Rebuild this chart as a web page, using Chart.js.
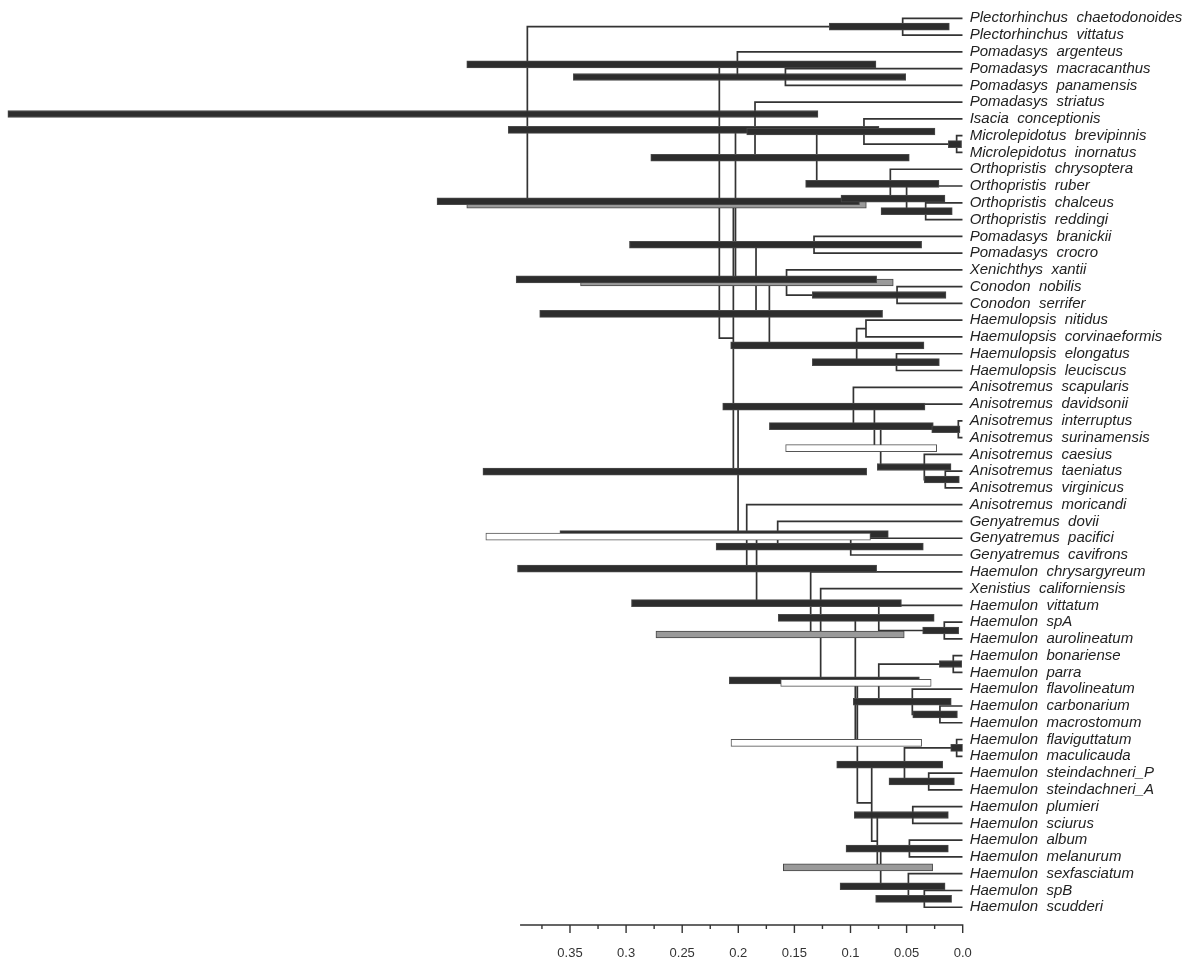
<!DOCTYPE html>
<html>
<head>
<meta charset="utf-8">
<title>Haemulidae chronogram</title>
<script src="https://cdn.jsdelivr.net/npm/chart.js@4.4.1/dist/chart.umd.min.js"></script>
<style>
  html, body { margin: 0; padding: 0; background: #fff; }
</style>
</head>
<body>
<canvas id="tree" width="1200" height="962"></canvas>
<script>
// tips, top to bottom
const taxa = [
  'Plectorhinchus  chaetodonoides', 'Plectorhinchus  vittatus', 'Pomadasys  argenteus',
  'Pomadasys  macracanthus', 'Pomadasys  panamensis', 'Pomadasys  striatus',
  'Isacia  conceptionis', 'Microlepidotus  brevipinnis', 'Microlepidotus  inornatus',
  'Orthopristis  chrysoptera', 'Orthopristis  ruber', 'Orthopristis  chalceus',
  'Orthopristis  reddingi', 'Pomadasys  branickii', 'Pomadasys  crocro',
  'Xenichthys  xantii', 'Conodon  nobilis', 'Conodon  serrifer',
  'Haemulopsis  nitidus', 'Haemulopsis  corvinaeformis', 'Haemulopsis  elongatus',
  'Haemulopsis  leuciscus', 'Anisotremus  scapularis', 'Anisotremus  davidsonii',
  'Anisotremus  interruptus', 'Anisotremus  surinamensis', 'Anisotremus  caesius',
  'Anisotremus  taeniatus', 'Anisotremus  virginicus', 'Anisotremus  moricandi',
  'Genyatremus  dovii', 'Genyatremus  pacifici', 'Genyatremus  cavifrons',
  'Haemulon  chrysargyreum', 'Xenistius  californiensis', 'Haemulon  vittatum',
  'Haemulon  spA', 'Haemulon  aurolineatum', 'Haemulon  bonariense',
  'Haemulon  parra', 'Haemulon  flavolineatum', 'Haemulon  carbonarium',
  'Haemulon  macrostomum', 'Haemulon  flaviguttatum', 'Haemulon  maculicauda',
  'Haemulon  steindachneri_P', 'Haemulon  steindachneri_A', 'Haemulon  plumieri',
  'Haemulon  sciurus', 'Haemulon  album', 'Haemulon  melanurum',
  'Haemulon  sexfasciatum', 'Haemulon  spB', 'Haemulon  scudderi'
];

// internal nodes: id, age, two children (number = tip index, string = node id)
const nodeIds  = ['root', 'A', 'N1', 'B', 'C', 'N2', 'X', 'J', 'I', 'E', 'D', 'F', 'H', 'G',
                  'O', 'K', 'R', 'M', 'L', 'P3', 'P1', 'P2', 'Q', 'A4', 'A8', 'A7', 'A1', 'A5', 'A6',
                  'G1', 'H21', 'G3', 'G4', 'H20', 'H19', 'H18', 'H2', 'H1', 'H17', 'H6', 'H3',
                  'H5', 'H4', 'H16', 'H9', 'H7', 'H8', 'H15', 'H10', 'H14', 'H11', 'H13', 'H12'];
const nodeAges = [0.388, 0.0535, 0.2169, 0.2008, 0.158, 0.2044, 0.2025, 0.1851, 0.1301, 0.088, 0.0054, 0.0645, 0.050, 0.033,
                  0.1842, 0.1325, 0.1723, 0.157, 0.0585, 0.0945, 0.0862, 0.059, 0.2002, 0.0974, 0.0787, 0.0731, 0.0039, 0.0342, 0.0155,
                  0.1925, 0.1837, 0.1649, 0.0998, 0.1355, 0.1266, 0.0957, 0.0748, 0.0164, 0.0939, 0.0748, 0.0084,
                  0.0449, 0.0203, 0.0811, 0.0519, 0.0054, 0.0303, 0.0761, 0.0445, 0.0731, 0.0475, 0.0484, 0.0342];
const nodeKids = [['A', 'N1'], [0, 1], ['B', 'N2'], [2, 'C'], [3, 4], ['X', 'Q'], ['J', 'O'], [5, 'I'], ['E', 'F'], [6, 'D'], [7, 8], [9, 'H'], [10, 'G'], [11, 12],
                  ['K', 'R'], [13, 14], ['M', 'P3'], [15, 'L'], [16, 17], ['P1', 'P2'], [18, 19], [20, 21], ['A4', 'G1'], [22, 'A8'], [23, 'A7'], ['A1', 'A5'], [24, 25], [26, 'A6'], [27, 28],
                  [29, 'H21'], ['G3', 'H20'], [30, 'G4'], [31, 32], [33, 'H19'], [34, 'H18'], ['H2', 'H17'], [35, 'H1'], [36, 37], ['H6', 'H16'], ['H3', 'H5'], [38, 39],
                  [40, 'H4'], [41, 42], ['H9', 'H15'], ['H7', 'H8'], [43, 44], [45, 46], ['H10', 'H14'], [47, 48], ['H11', 'H13'], [49, 50], [51, 'H12'], [52, 53]];

// 95% HPD bars: node, young end, old end, kind
const hpdNodes = ['root', 'A', 'B', 'C', 'N1', 'X', 'J', 'E', 'D', 'I', 'F', 'H', 'G', 'K', 'O', 'M', 'L', 'R', 'P3', 'P2',
                  'A4', 'A8', 'A1', 'A7', 'A5', 'A6', 'Q', 'G3', 'G1', 'G4', 'H21', 'H20', 'H2', 'H1', 'H19', 'H3',
                  'H18', 'H6', 'H5', 'H4', 'H17', 'H7', 'H9', 'H8', 'H10', 'H11', 'H14', 'H13', 'H12'];
const hpdYoung = [0.129, 0.0119, 0.0773, 0.0508, 0.092, 0.0859, 0.0746, 0.0247, 0.001, 0.0476, 0.0211, 0.0158, 0.0093, 0.0366, 0.0767, 0.0619, 0.0149, 0.0714, 0.0345, 0.0208,
                  0.0336, 0.0262, 0.0024, 0.0232, 0.0104, 0.003, 0.0856, 0.0663, 0.0822, 0.0351, 0.0767, 0.0546, 0.0254, 0.0036, 0.0521, 0.0009,
                  0.0386, 0.0281, 0.0102, 0.0047, 0.0366, 0.0, 0.0178, 0.0074, 0.0128, 0.0128, 0.0268, 0.0157, 0.0099];
const hpdOld   = [0.851, 0.1189, 0.442, 0.347, 0.4685, 0.442, 0.405, 0.1925, 0.0128, 0.278, 0.140, 0.1085, 0.0728, 0.297, 0.398, 0.3406, 0.134, 0.377, 0.2068, 0.134,
                  0.2139, 0.1723, 0.0276, 0.1578, 0.0761, 0.0342, 0.4276, 0.359, 0.425, 0.2198, 0.3968, 0.2952, 0.1644, 0.0357, 0.2734, 0.0208,
                  0.208, 0.1622, 0.0975, 0.0445, 0.2065, 0.0107, 0.1123, 0.0657, 0.0966, 0.104, 0.1599, 0.1093, 0.0776];
const hpdKind  = ['black', 'black', 'black', 'black', 'black', 'gray', 'black', 'black', 'black', 'black', 'black', 'black', 'black', 'black', 'black', 'gray', 'black', 'black', 'black', 'black',
                  'black', 'black', 'black', 'white', 'black', 'black', 'black', 'black', 'white', 'black', 'black', 'black', 'black', 'black', 'gray', 'black',
                  'black', 'white', 'black', 'black', 'white', 'black', 'black', 'black', 'black', 'black', 'gray', 'black', 'black'];

// time axis
const majorTicks = [0.35, 0.3, 0.25, 0.2, 0.15, 0.1, 0.05, 0.0];
const majorLabels = ['0.35', '0.3', '0.25', '0.2', '0.15', '0.1', '0.05', '0.0'];
const minorTicks = [0.375, 0.325, 0.275, 0.225, 0.175, 0.125, 0.075, 0.025];
const axisStart = 0.3945;

// layout of the tree: tips sit on their row, a node halfway between its children
const nodeIndex = {};
nodeIds.forEach((id, i) => { nodeIndex[id] = i; });
const rowCache = {};
function rowOf(ref) {
  if (typeof ref === 'number') return ref;
  if (rowCache[ref] === undefined) {
    const kids = nodeKids[nodeIndex[ref]];
    rowCache[ref] = (rowOf(kids[0]) + rowOf(kids[1])) / 2;
  }
  return rowCache[ref];
}
function ageOf(ref) {
  return typeof ref === 'number' ? 0 : nodeAges[nodeIndex[ref]];
}

const branchPts = [];
nodeIds.forEach((id, i) => {
  const [a, b] = nodeKids[i];
  const age = nodeAges[i];
  branchPts.push({x: ageOf(a), y: rowOf(a)});
  branchPts.push({x: age, y: rowOf(a)});
  branchPts.push({x: age, y: rowOf(b)});
  branchPts.push({x: ageOf(b), y: rowOf(b)});
  branchPts.push({x: null, y: null});
});

function barsOf(kind) {
  const out = [];
  hpdNodes.forEach((n, i) => {
    if (hpdKind[i] === kind) out.push({y: rowOf(n), x: [hpdYoung[i], hpdOld[i]]});
  });
  return out;
}

const barStyle = {
  black: {fill: '#2d2d2d', line: '#4a4a4a', order: 2},
  gray:  {fill: '#9a9a9a', line: '#454545', order: 3},
  white: {fill: '#ffffff', line: '#555555', order: 1}
};
const barSets = ['white', 'black', 'gray'].map(k => ({
  type: 'bar',
  indexAxis: 'y',
  data: barsOf(k),
  backgroundColor: barStyle[k].fill,
  borderColor: barStyle[k].line,
  borderWidth: 1,
  borderSkipped: false,
  barThickness: 7,
  grouped: false,
  order: barStyle[k].order
}));

const timeAxis = {
  id: 'timeAxis',
  afterDraw(chart) {
    const ctx = chart.ctx;
    const xs = chart.scales.x;
    const y0 = chart.chartArea.bottom + 5;
    ctx.save();
    ctx.strokeStyle = '#333';
    ctx.lineWidth = 1.4;
    ctx.beginPath();
    ctx.moveTo(xs.getPixelForValue(axisStart), y0);
    ctx.lineTo(xs.getPixelForValue(0) + 0.7, y0);
    majorTicks.forEach(v => {
      const px = xs.getPixelForValue(v);
      ctx.moveTo(px, y0);
      ctx.lineTo(px, y0 + 8);
    });
    minorTicks.forEach(v => {
      const px = xs.getPixelForValue(v);
      ctx.moveTo(px, y0);
      ctx.lineTo(px, y0 + 4);
    });
    ctx.stroke();
    ctx.fillStyle = '#333';
    ctx.font = '13px "Liberation Sans", Arial, sans-serif';
    ctx.textAlign = 'center';
    ctx.textBaseline = 'middle';
    majorTicks.forEach((v, i) => {
      ctx.fillText(majorLabels[i], xs.getPixelForValue(v), y0 + 28);
    });
    ctx.restore();
  }
};

new Chart(document.getElementById('tree'), {
  type: 'scatter',
  data: {
    datasets: [
      ...barSets,
      {
        type: 'scatter',
        data: branchPts,
        showLine: true,
        spanGaps: false,
        borderColor: '#333',
        borderWidth: 1.7,
        pointRadius: 0,
        pointHoverRadius: 0,
        order: 5
      }
    ]
  },
  options: {
    responsive: false,
    animation: false,
    events: [],
    layout: {padding: {top: 0, left: 0, right: 0, bottom: 42}},
    plugins: {legend: {display: false}, tooltip: {enabled: false}},
    scales: {
      x: {
        type: 'linear',
        reverse: true,
        min: 0,
        max: 0.858,
        display: false
      },
      y: {
        type: 'linear',
        position: 'right',
        reverse: true,
        offset: false,
        min: -1.09,
        max: 53.76,
        grid: {display: false, drawTicks: false, offset: false},
        border: {display: false},
        afterBuildTicks: s => { s.ticks = taxa.map((t, i) => ({value: i})); },
        afterFit: s => { s.width = 237.3; s.paddingTop = 0; s.paddingBottom = 0; },
        ticks: {
          autoSkip: false,
          padding: 7,
          color: '#222',
          font: {family: '"Liberation Sans", Arial, sans-serif', size: 15, style: 'italic'},
          callback: v => taxa[v]
        }
      }
    }
  },
  plugins: [timeAxis]
});
</script>
</body>
</html>
